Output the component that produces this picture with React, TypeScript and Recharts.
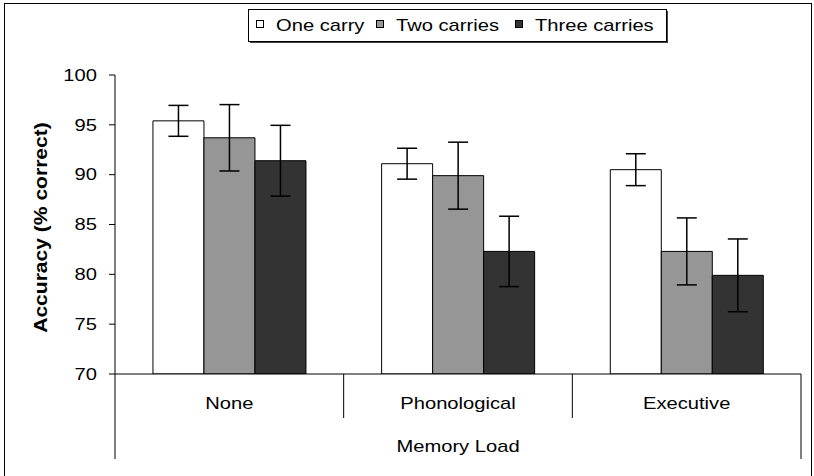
import React from 'react';
import { BarChart, Bar, XAxis, YAxis, ErrorBar, Legend } from 'recharts';

const categories = ['None', 'Phonological', 'Executive'];
const seriesNames = ['One carry', 'Two carries', 'Three carries'];
const oneCarry = [95.4, 91.1, 90.5];
const oneCarryErr = [1.55, 1.55, 1.6];
const twoCarries = [93.7, 89.9, 82.3];
const twoCarriesErr = [3.33, 3.36, 3.36];
const threeCarries = [91.4, 82.3, 79.9];
const threeCarriesErr = [3.55, 3.53, 3.65];
const yTicks = [70, 75, 80, 85, 90, 95, 100];
const xAxisTitle = 'Memory Load';
const yAxisTitle = 'Accuracy (% correct)';

const colors = ['#ffffff', '#969696', '#333333'];
const FONT = '"Liberation Sans", Arial, sans-serif';
const S = 1.26;

const data = categories.map((name, i) => ({
  name,
  one: oneCarry[i],
  oneErr: oneCarryErr[i],
  two: twoCarries[i],
  twoErr: twoCarriesErr[i],
  three: threeCarries[i],
  threeErr: threeCarriesErr[i],
}));

function YTick(props: any) {
  const { x, y, payload } = props;
  return (
    <text
      transform={`translate(${x},${y}) scale(${S},1)`}
      textAnchor="end"
      dy="0.36em"
      fontFamily={FONT}
      fontSize={16}
      fill="#000"
    >
      {payload.value}
    </text>
  );
}

function XTick(props: any) {
  const { x, y, payload, index } = props;
  const off = payload && typeof payload.offset === 'number' && payload.offset > 0 ? payload.offset : 686 / 3 / 2;
  const last = index === categories.length - 1;
  return (
    <g>
      <text
        transform={`translate(${x},${y + 34.5}) scale(${S},1)`}
        textAnchor="middle"
        fontFamily={FONT}
        fontSize={16}
        fill="#000"
      >
        {payload.value}
      </text>
      {!last && <line x1={x + off} x2={x + off} y1={y} y2={y + 44} stroke="#000" strokeWidth={1} />}
      {index === 0 && <line x1={x - off} x2={x - off} y1={y} y2={y + 85} stroke="#000" strokeWidth={1} />}
      {last && <line x1={x + off} x2={x + off} y1={y} y2={y + 85} stroke="#000" strokeWidth={1} />}
    </g>
  );
}

function XTitle(props: any) {
  const vb = props.viewBox || { x: 115, y: 374, width: 686, height: 102 };
  const cx = vb.x + vb.width / 2;
  return (
    <text
      transform={`translate(${cx},${vb.y + 78}) scale(${S},1)`}
      textAnchor="middle"
      fontFamily={FONT}
      fontSize={16}
      fill="#000"
    >
      {xAxisTitle}
    </text>
  );
}

function YTitle() {
  return (
    <text
      transform={`translate(46.5,227.5) rotate(-90) scale(1.17,1)`}
      textAnchor="middle"
      fontFamily={FONT}
      fontSize={18}
      fontWeight="bold"
      fill="#000"
    >
      {yAxisTitle}
    </text>
  );
}

const legendMarkerX = [256.5, 376.5, 515.5];
const legendTextX = [276, 396, 535];

function LegendContent() {
  return (
    <svg width={814} height={50} style={{ display: 'block' }}>
      <rect x={250} y={11} width={418} height={32} fill="#444" />
      <rect x={248.5} y={9.5} width={418} height={32} fill="#fff" stroke="#000" strokeWidth={1} />
      {seriesNames.map((n, i) => (
        <g key={n}>
          <rect x={legendMarkerX[i]} y={20.5} width={7} height={7} fill={colors[i]} stroke="#000" strokeWidth={1} />
          <text
            transform={`translate(${legendTextX[i]},30.7) scale(${S},1)`}
            fontFamily={FONT}
            fontSize={16}
            fill="#000"
          >
            {n}
          </text>
        </g>
      ))}
    </svg>
  );
}

export default function App() {
  return (
    <div style={{ position: 'absolute', left: 0, top: 0, width: 814, height: 476, background: '#fff', overflow: 'hidden' }}>
      <div
        style={{
          position: 'absolute',
          left: 4,
          top: 3,
          width: 808,
          height: 520,
          boxSizing: 'border-box',
          border: '1px solid #000',
        }}
      />
      <div style={{ position: 'absolute', left: 0, top: 0 }}>
        <BarChart
          width={814}
          height={476}
          data={data}
          margin={{ top: 75, right: 13, bottom: 0, left: 0 }}
          barCategoryGap="16.6%"
          barGap={0}
        >
          <XAxis
            dataKey="name"
            height={102}
            interval={0}
            axisLine={{ stroke: '#000', strokeWidth: 1 }}
            tickLine={false}
            tickSize={0}
            tickMargin={0}
            tick={<XTick />}
            label={<XTitle />}
          />
          <YAxis
            width={115}
            domain={[70, 100]}
            ticks={yTicks}
            interval={0}
            allowDataOverflow
            axisLine={{ stroke: '#000', strokeWidth: 1 }}
            tickLine={{ stroke: '#000', strokeWidth: 1 }}
            tickSize={6}
            tickMargin={12}
            tick={<YTick />}
            label={<YTitle />}
          />
          <Legend
            layout="vertical"
            verticalAlign="middle"
            align="center"
            content={<LegendContent />}
            wrapperStyle={{ left: 0, top: 0, width: 814, height: 50 }}
          />
          <Bar dataKey="one" name={seriesNames[0]} fill={colors[0]} stroke="#000" strokeWidth={1} isAnimationActive={false}>
            <ErrorBar dataKey="oneErr" width={10} stroke="#000" strokeWidth={1.5} isAnimationActive={false} />
          </Bar>
          <Bar dataKey="two" name={seriesNames[1]} fill={colors[1]} stroke="#000" strokeWidth={1} isAnimationActive={false}>
            <ErrorBar dataKey="twoErr" width={10} stroke="#000" strokeWidth={1.5} isAnimationActive={false} />
          </Bar>
          <Bar dataKey="three" name={seriesNames[2]} fill={colors[2]} stroke="#000" strokeWidth={1} isAnimationActive={false}>
            <ErrorBar dataKey="threeErr" width={10} stroke="#000" strokeWidth={1.5} isAnimationActive={false} />
          </Bar>
        </BarChart>
      </div>
    </div>
  );
}
